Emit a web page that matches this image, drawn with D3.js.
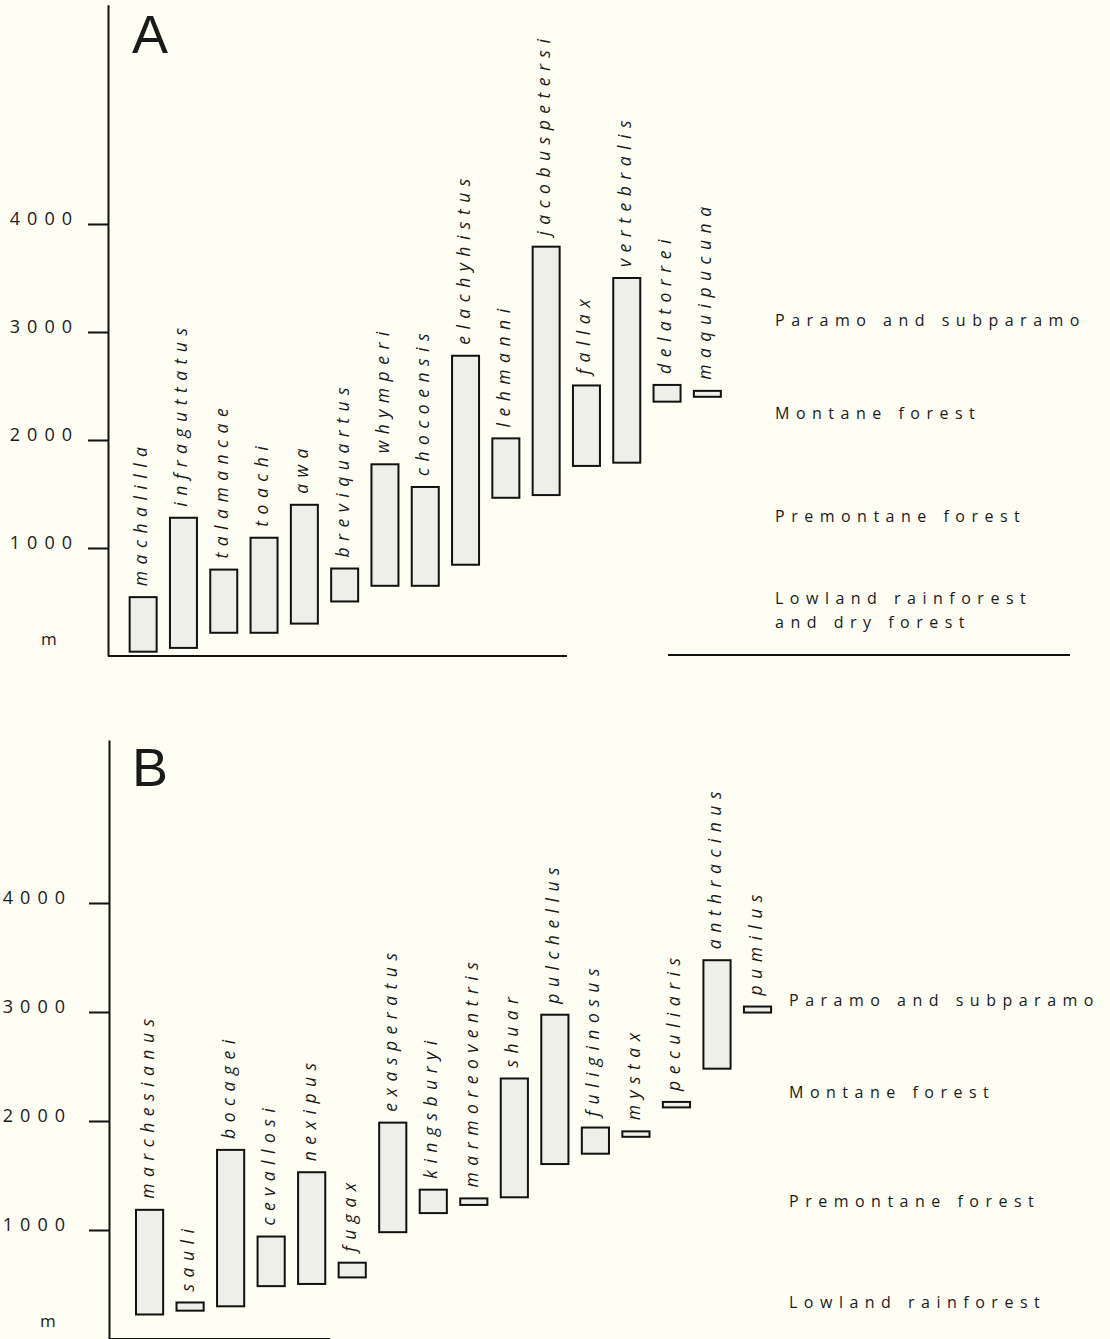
<!DOCTYPE html>
<html>
<head>
<meta charset="utf-8">
<script src="https://cdn.jsdelivr.net/npm/d3@7"></script>
<style>
  body { margin: 0; background: #fefef4; }
  svg { display: block; }
  text { font-family: "Open Sans", "DejaVu Sans", sans-serif; fill: #1a1a1a; }
</style>
</head>
<body>
<div id="chart"></div>
<script>
// elevation ranges (m), panel A
var speciesA = ["machalilla", "infraguttatus", "talamancae", "toachi", "awa", "breviquartus",
    "whymperi", "chocoensis", "elachyhistus", "lehmanni", "jacobuspetersi", "fallax",
    "vertebralis", "delatorrei", "maquipucuna"];
var lowA  = [40, 75, 215, 215, 300, 505, 650, 650, 845, 1465, 1490, 1760, 1790, 2355, 2400];
var highA = [545, 1280, 800, 1095, 1400, 810, 1775, 1565, 2780, 2015, 3790, 2505, 3500, 2510, 2455];

// elevation ranges (m), panel B
var speciesB = ["marchesianus", "sauli", "bocagei", "cevallosi", "nexipus", "fugax",
    "exasperatus", "kingsburyi", "marmoreoventris", "shuar", "pulchellus", "fuliginosus",
    "mystax", "peculiaris", "anthracinus", "pumilus"];
var lowB  = [225, 260, 300, 485, 505, 565, 980, 1155, 1230, 1300, 1605, 1700, 1855, 2125, 2480, 2995];
var highB = [1185, 335, 1735, 940, 1530, 700, 1985, 1370, 1290, 2390, 2975, 1940, 1905, 2175, 3475, 3050];

var tickValues = [1000, 2000, 3000, 4000];

// vegetation zone labels, placed at an elevation
var zonesA = [["Paramo and subparamo"], ["Montane forest"], ["Premontane forest"],
    ["Lowland rainforest", "and dry forest"]];
var zoneElevA = [3110, 2250, 1296, 537];
var zonesB = [["Paramo and subparamo"], ["Montane forest"], ["Premontane forest"],
    ["Lowland rainforest"]];
var zoneElevB = [3110, 2266, 1266, 339];

var width = 1110;
var height = 1339;

var svg = d3.select("#chart")
    .append("svg")
    .attr("width", width)
    .attr("height", height);

function drawPanel(p, species, low, high, zones, zoneElev) {
    var g = svg.append("g");

    var y = d3.scaleLinear()
        .domain([0, p.yMax])
        .range([p.y0, p.y0 - p.yMax * p.pxPer1000 / 1000]);

    var x = d3.scaleBand()
        .domain(species)
        .range([p.xStart, p.xStart + species.length * p.step])
        .paddingInner(0.33)
        .paddingOuter(0.165);

    var axis = d3.axisLeft(y)
        .tickValues(tickValues)
        .tickSize(20)
        .tickSizeOuter(0)
        .tickFormat(d3.format("d"));

    var ax = g.append("g")
        .attr("transform", "translate(" + p.axisX + ",0)")
        .call(axis);
    ax.select(".domain").attr("stroke", "#111").attr("stroke-width", 2);
    ax.selectAll(".tick line").attr("stroke", "#111").attr("stroke-width", 2);
    ax.selectAll(".tick text")
        .attr("x", p.labelX)
        .attr("dy", "0")
        .attr("font-size", "18px")
        .attr("letter-spacing", "7px")
        .attr("fill", "#1a1a1a")
        .style("font-family", "'Open Sans', sans-serif");

    // base line
    g.append("line")
        .attr("x1", p.axisX).attr("x2", p.baseEnd)
        .attr("y1", y(0)).attr("y2", y(0))
        .attr("stroke", "#111").attr("stroke-width", 2);
    if (p.rightBase) {
        g.append("line")
            .attr("x1", p.rightBase[0]).attr("x2", p.rightBase[1])
            .attr("y1", y(0) - 1).attr("y2", y(0) - 1)
            .attr("stroke", "#111").attr("stroke-width", 2);
    }

    g.append("text")
        .attr("x", p.mX).attr("y", p.mY)
        .attr("font-size", "17px")
        .text("m");

    g.append("text")
        .attr("x", p.letterX).attr("y", p.letterY)
        .attr("font-size", "54px")
        .style("font-family", "'Liberation Sans', Arial, sans-serif")
        .text(p.letter);

    g.selectAll("rect.range")
        .data(species)
        .enter()
        .append("rect")
        .attr("class", "range")
        .attr("x", function(d) { return x(d); })
        .attr("width", x.bandwidth())
        .attr("y", function(d, i) { return y(high[i]); })
        .attr("height", function(d, i) { return y(low[i]) - y(high[i]); })
        .attr("fill", "#efefe9")
        .attr("stroke", "#111")
        .attr("stroke-width", 2);

    g.selectAll("text.sp")
        .data(species)
        .enter()
        .append("text")
        .attr("class", "sp")
        .attr("transform", function(d, i) {
            return "translate(" + (x(d) + x.bandwidth() / 2 + 4) + "," + (y(high[i]) - 11) + ") rotate(-90)";
        })
        .attr("font-size", "17.5px")
        .attr("font-style", "italic")
        .attr("letter-spacing", "6.5px")
        .text(function(d) { return d; });

    var zt = g.selectAll("text.zone")
        .data(zones)
        .enter()
        .append("text")
        .attr("class", "zone")
        .attr("x", p.zoneX)
        .attr("y", function(d, i) { return y(zoneElev[i]); })
        .attr("font-size", "16px")
        .attr("letter-spacing", "6.5px");
    zt.selectAll("tspan")
        .data(function(d) { return d; })
        .enter()
        .append("tspan")
        .attr("x", p.zoneX)
        .attr("dy", function(d, i) { return i === 0 ? "0.35em" : "24px"; })
        .text(function(d) { return d; });
}

drawPanel({
    letter: "A", letterX: 132, letterY: 53,
    axisX: 108, y0: 656, pxPer1000: 108, yMax: 6030,
    xStart: 123, step: 40.3, baseEnd: 567, rightBase: [668, 1070],
    labelX: -29, mX: 41, mY: 645, zoneX: 775
}, speciesA, lowA, highA, zonesA, zoneElevA);

drawPanel({
    letter: "B", letterX: 132, letterY: 786,
    axisX: 109, y0: 1339, pxPer1000: 109, yMax: 5495,
    xStart: 129.3, step: 40.53, baseEnd: 330, rightBase: null,
    labelX: -37, mX: 40, mY: 1327, zoneX: 789
}, speciesB, lowB, highB, zonesB, zoneElevB);
</script>
</body>
</html>
